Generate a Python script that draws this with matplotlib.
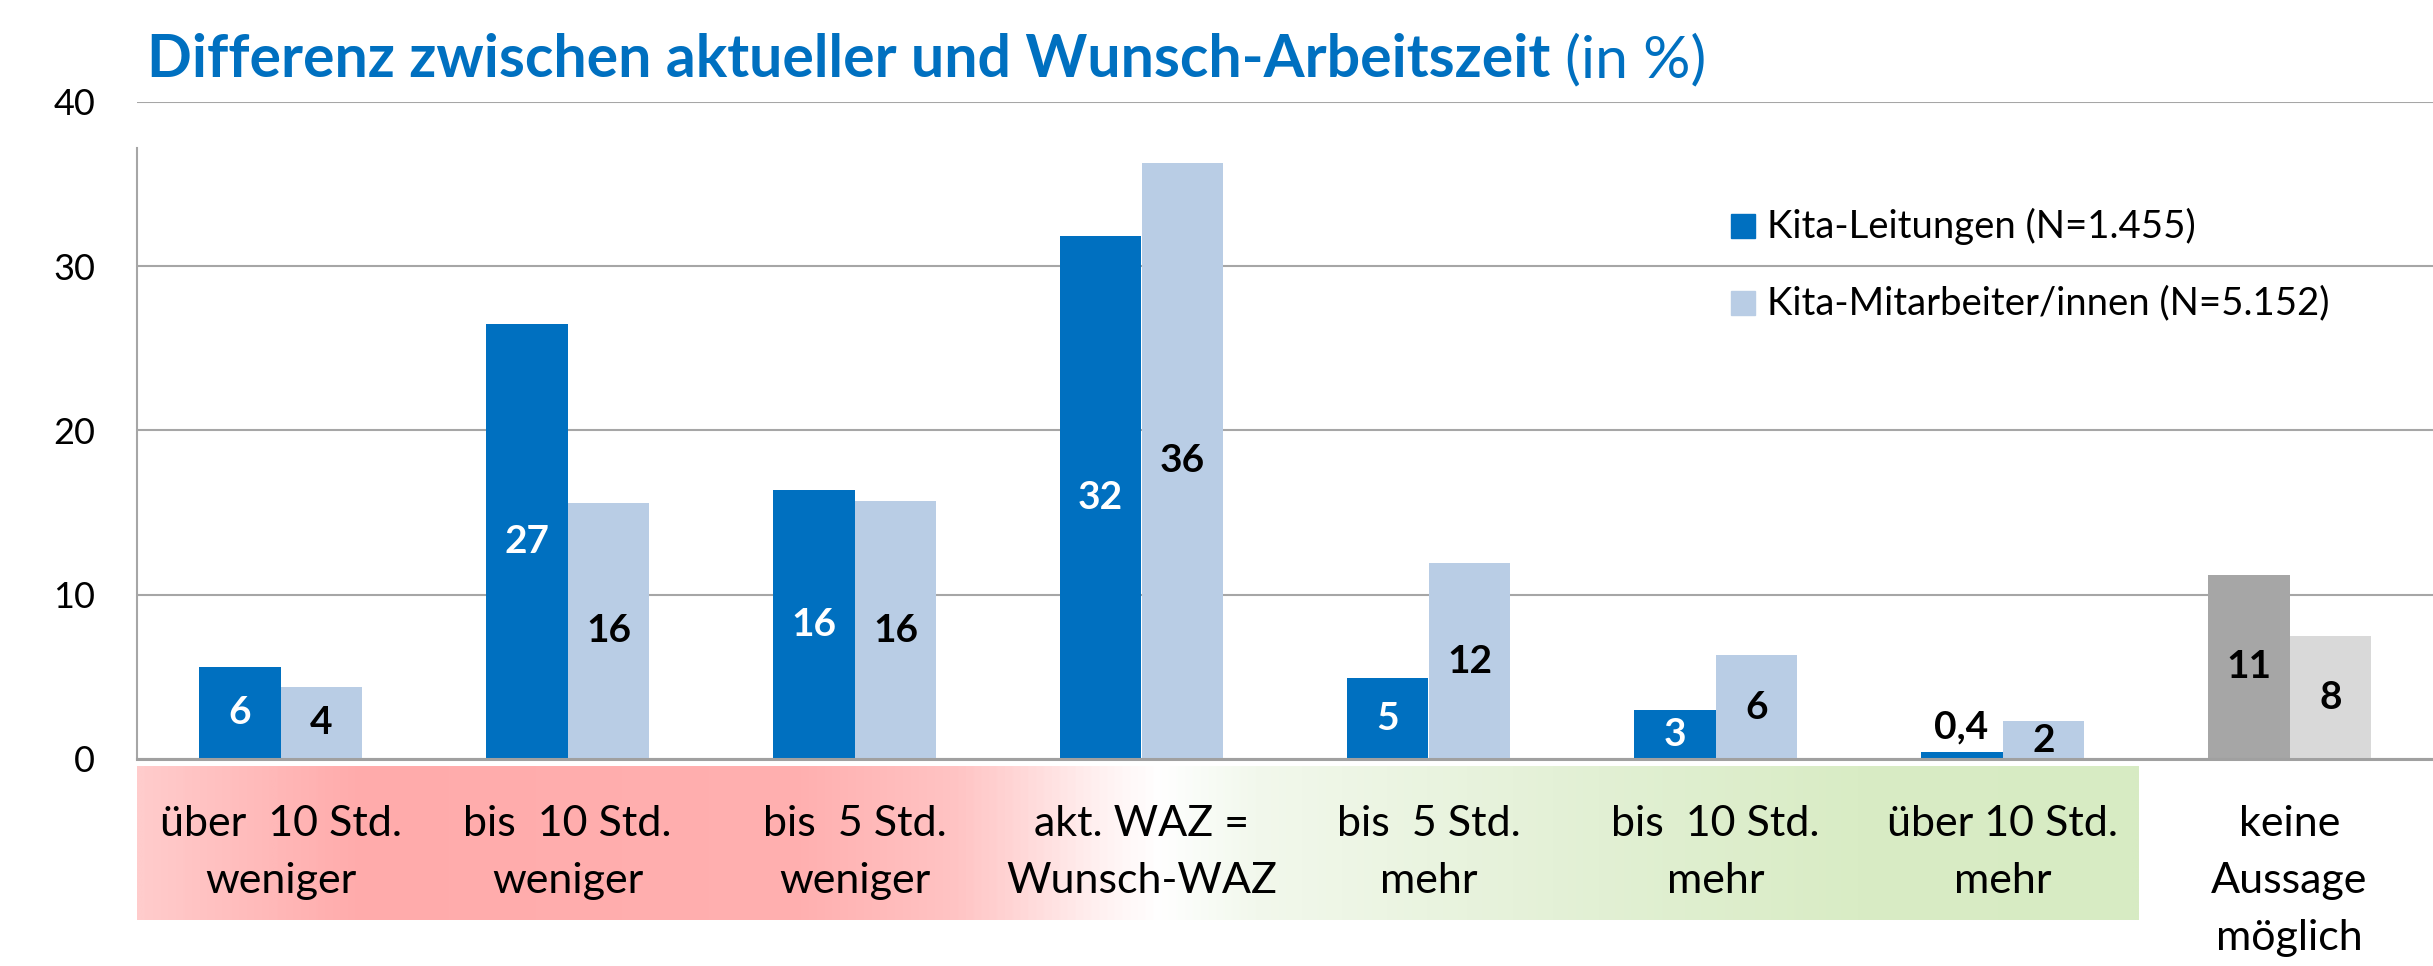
import matplotlib
matplotlib.use("Agg")
import matplotlib.pyplot as plt
import numpy as np
from matplotlib.colors import LinearSegmentedColormap
from matplotlib.patches import Rectangle

# ---------------- data ----------------
categories = ["über  10 Std.\nweniger", "bis  10 Std.\nweniger", "bis  5 Std.\nweniger",
              "akt. WAZ =\nWunsch-WAZ", "bis  5 Std.\nmehr", "bis  10 Std.\nmehr",
              "über 10 Std.\nmehr", "keine\nAussage\nmöglich"]
leitungen = [5.6, 26.5, 16.4, 31.8, 4.9, 3.0, 0.4, 11.2]
mitarbeiter = [4.4, 15.6, 15.7, 36.3, 11.9, 6.3, 2.3, 7.5]
leitungen_labels = ["6", "27", "16", "32", "5", "3", "0,4", "11"]
mitarbeiter_labels = ["4", "16", "16", "36", "12", "6", "2", "8"]
series_names = ["Kita-Leitungen (N=1.455)", "Kita-Mitarbeiter/innen (N=5.152)"]
yticks = [0, 10, 20, 30, 40]
title_bold = "Differenz zwischen aktueller und Wunsch-Arbeitszeit"
title_rest = " (in %)"

# ---------------- style ----------------
FONT = ["Lato", "DejaVu Sans"]
plt.rcParams["font.family"] = FONT
BLUE = "#0070C0"
LIGHT = "#B9CDE5"
GRAY_D = "#A6A6A6"
GRAY_L = "#D9D9D9"
GRID = "#A6A6A6"

W, H = 2433, 966
fig = plt.figure(figsize=(W / 100, H / 100), dpi=100)


def fx(px):
    return px / W


def fy(py):
    return 1 - py / H


ax = fig.add_axes([fx(137), fy(759), (2433 - 137) / W, (759 - 101.7) / H])

x = np.arange(len(categories))
bw = 0.2857
n = len(categories)
c_dark = [BLUE] * (n - 1) + [GRAY_D]
c_light = [LIGHT] * (n - 1) + [GRAY_L]

b1 = ax.bar(x - bw / 2, leitungen, bw, color=c_dark, zorder=3)
b2 = ax.bar(x + bw / 2, mitarbeiter, bw, color=c_light, zorder=3)

lab_kw = dict(fontsize=28, fontweight="bold")
small_idx = 6
t1 = ax.bar_label(b1, labels=[l if i != small_idx else "" for i, l in enumerate(leitungen_labels)],
                  label_type="center", **lab_kw)
for i, t in enumerate(t1):
    t.set_color("white" if i < n - 1 else "black")
t2 = ax.bar_label(b2, labels=mitarbeiter_labels, label_type="center", color="black", **lab_kw)
ax.annotate(leitungen_labels[small_idx], xy=(x[small_idx] - bw / 2, leitungen[small_idx]),
            xytext=(0, 6), textcoords="offset points", ha="center", va="bottom",
            color="black", **lab_kw)

# gradient band behind category labels
stops = [(0.0, "#FFCCCC"), (0.11, "#FFABAB"), (0.33, "#FFB0B0"), (0.41, "#FFC4C4"),
         (0.48, "#FFF0F0"), (0.51, "#FFFFFF"), (0.56, "#F2F8EC"), (0.73, "#E2F0D4"),
         (0.86, "#D9ECC5"), (1.0, "#D7EBC3")]
cmap = LinearSegmentedColormap.from_list("band", stops)
grad = np.linspace(0, 1, 1024).reshape(1, -1)
ax.imshow(grad, cmap=cmap, aspect="auto", extent=(-0.5, 6.474, -9.80, -0.487),
          clip_on=False, zorder=0, interpolation="bilinear")

ax.set_xlim(-0.5, 7.5)
ax.set_ylim(0, 40)

# axes styling
for s in ["top", "right"]:
    ax.spines[s].set_visible(False)
ax.spines["left"].set_bounds(0, 37.2)
ax.spines["left"].set_color(GRID)
ax.spines["left"].set_linewidth(1.5)
ax.spines["bottom"].set_color("#A0A0A0")
ax.spines["bottom"].set_linewidth(2.2)
ax.spines["bottom"].set_zorder(4)
ax.set_axisbelow(True)
ax.yaxis.grid(True, color=GRID, linewidth=1.5)
ax.xaxis.grid(False)

ax.set_yticks(yticks)
ax.tick_params(axis="y", length=0, pad=30, labelsize=26)
ax.set_xticks(x, categories)
ax.tick_params(axis="x", length=0, pad=33, labelsize=31)
for lab in ax.get_xticklabels():
    lab.set_linespacing(1.62)

# legend (manual)
for name, col, cy in zip(series_names, [BLUE, LIGHT], [226, 303]):
    fig.add_artist(Rectangle((fx(1731), fy(cy + 12)), 24 / W, 24 / H,
                             transform=fig.transFigure, color=col))
    fig.text(fx(1767), fy(cy), name, va="center", ha="left", fontsize=27.5)

# title
tt = fig.text(fx(147), fy(77), title_bold, fontsize=42.5, fontweight="bold", color=BLUE,
              va="baseline", ha="left")
ax.annotate(title_rest, xy=(1, 0), xycoords=tt, va="bottom", ha="left", fontsize=42.5,
            color=BLUE, annotation_clip=False)

fig.savefig("out.png", dpi=100)
